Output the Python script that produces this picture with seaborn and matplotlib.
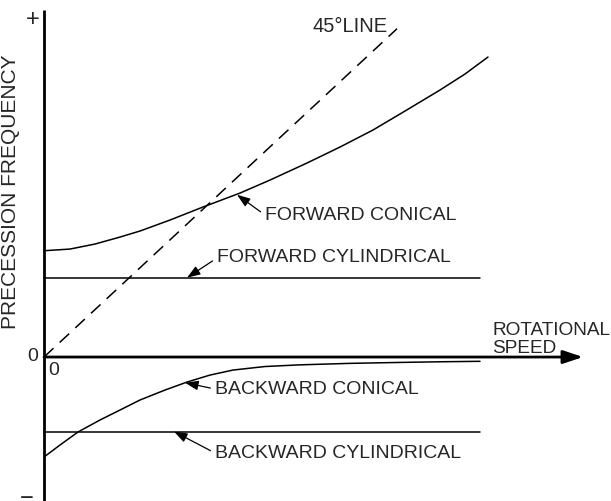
import matplotlib
matplotlib.use("Agg")
import matplotlib.pyplot as plt
import seaborn as sns

# Precession frequency vs rotational speed (arbitrary units, 45° line is y = x)
speed_fwd_conical = [0.0, 0.26, 0.51, 0.76, 0.96, 1.26, 1.59, 1.96, 2.26, 2.63,
                     2.96, 3.29, 3.61, 3.96, 4.21, 4.44]
freq_fwd_conical = [1.143, 1.161, 1.215, 1.290, 1.355, 1.473, 1.613, 1.763, 1.903,
                    2.086, 2.258, 2.441, 2.645, 2.871, 3.043, 3.226]

speed_bwd_conical = [0.0, 0.16, 0.34, 0.56, 0.76, 0.96, 1.21, 1.43, 1.66, 1.89,
                     2.21, 2.56, 3.06, 3.56, 3.96, 4.36]
freq_bwd_conical = [-1.075, -0.946, -0.806, -0.677, -0.570, -0.462, -0.355, -0.269,
                    -0.194, -0.140, -0.102, -0.084, -0.068, -0.058, -0.051, -0.046]

speed_cyl = [0.0, 4.36]
freq_fwd_cyl = [0.853, 0.853]
freq_bwd_cyl = [-0.801, -0.801]

speed_45 = [0.0, 3.53]
freq_45 = [0.0, 3.53]

sns.set_theme(style="white")
plt.rcParams["font.family"] = ["Liberation Sans", "DejaVu Sans"]

fig = plt.figure(figsize=(6.11, 5.01), dpi=100)
ax = fig.add_axes([0, 0, 1, 1])
ax.set_xlim(-0.44, 5.67)
ax.set_ylim(-1.548, 3.839)
ax.axis("off")

line_kw = dict(color="black", linewidth=1.1, sort=False, estimator=None, ax=ax)
sns.lineplot(x=speed_fwd_conical, y=freq_fwd_conical, **line_kw)
sns.lineplot(x=speed_bwd_conical, y=freq_bwd_conical, **line_kw)
sns.lineplot(x=speed_cyl, y=freq_fwd_cyl, **line_kw)
sns.lineplot(x=speed_cyl, y=freq_bwd_cyl, **line_kw)
ax.plot(speed_45, freq_45, color="black", linewidth=1.1, dashes=(8.5, 5.5))

# Axes drawn by hand: vertical frequency axis and horizontal speed arrow
ax.plot([0, 0], [3.731, -1.6], color="black", linewidth=2.0, solid_capstyle="butt")
ax.annotate("", xy=(5.39, 0), xytext=(0, 0),
            arrowprops=dict(arrowstyle="-|>,head_length=0.6,head_width=0.2",
                            color="black", lw=2.0, shrinkA=0, shrinkB=0,
                            mutation_scale=20))

fs = 14
ax.text(-0.11, 3.62, "+", fontsize=17, ha="center", va="center")
ax.text(-0.17, -1.525, "\u2212", fontsize=17, ha="center", va="center")
ax.text(-0.11, 0.01, "0", fontsize=fs, ha="center", va="center")
ax.text(0.10, -0.14, "0", fontsize=fs, ha="center", va="center")

ax.text(-0.33, 1.774, "PRECESSION FREQUENCY", fontsize=15, rotation=90,
        ha="center", va="center")
ax.text(4.48, 0.237, "ROTATIONAL", fontsize=13.7, ha="left", va="baseline")
ax.text(4.48, 0.04, "SPEED", fontsize=13.7, ha="left", va="baseline")
ax.text(2.69, 3.495, "45\u00b0LINE", fontsize=14.5, ha="left", va="baseline")

arrow_kw = dict(arrowstyle="-|>,head_length=0.5,head_width=0.18", color="black",
                lw=0.9, shrinkA=1, shrinkB=0, mutation_scale=16, relpos=(0, 0.5))

labels = [
    ("FORWARD CONICAL", (1.93, 1.745), (2.21, 1.527)),
    ("FORWARD CYLINDRICAL", (1.43, 0.853), (1.73, 1.065)),
    ("BACKWARD CONICAL", (1.41, -0.276), (1.71, -0.344)),
    ("BACKWARD CYLINDRICAL", (1.30, -0.801), (1.71, -1.032)),
]
for text, tip, pos in labels:
    ax.annotate(text, xy=tip, xytext=pos, fontsize=fs, ha="left", va="center",
                arrowprops=arrow_kw)

fig.savefig("out.png", dpi=100, facecolor="white")
